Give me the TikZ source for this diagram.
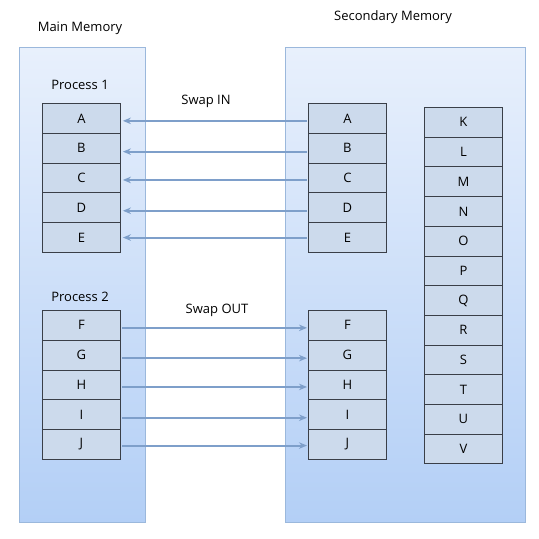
\documentclass[tikz,border=0pt]{standalone}
\usepackage{fontspec}
\setmainfont{Open Sans}
\usetikzlibrary{arrows.meta,shadings}
\definecolor{panelborder}{HTML}{9BB8DC}
\definecolor{paneltop}{HTML}{E8F0FC}
\definecolor{panelbot}{HTML}{B3CFF6}
\definecolor{cellfill}{HTML}{CCDAEC}
\definecolor{cellborder}{HTML}{3A3F48}
\definecolor{arrowcol}{HTML}{7E9FCA}
\tikzset{
  panel/.style={draw=panelborder, line width=1pt, top color=paneltop, bottom color=panelbot},
  cell/.style={draw=cellborder, line width=0.9pt, fill=cellfill, minimum width=78pt, minimum height=29.8pt, inner sep=0pt, anchor=north west, font=\fontsize{13}{15}\selectfont},
  kcell/.style={cell, minimum height=29.7pt},
  lbl/.style={font=\fontsize{13}{15}\selectfont, inner sep=0pt},
  swap/.style={draw=arrowcol, line width=2pt, -{Stealth[length=8pt,width=6.5pt]}}
}
\begin{document}
\begin{tikzpicture}[x=1pt,y=-1pt]
\useasboundingbox (0,0) rectangle (539,539);
% panels
\path[panel] (19,47) rectangle (145,522);
\path[panel] (285,47) rectangle (525,522);
% titles
\node[lbl] (mm) at (80,28) {Main Memory};
\node[lbl] (sm) at (393,17) {Secondary Memory};
\node[lbl] (p1) at (80,85) {Process 1};
\node[lbl] (p2) at (80,297) {Process 2};
\node[lbl] (sin) at (206,101) {Swap IN};
\node[lbl] (sout) at (217,310) {Swap OUT};
% process 1 in main memory
\foreach \n [count=\i from 0] in {A,B,C,D,E} {
  \node[cell] (m\n) at (42,103+29.8*\i) {\n};
  \node[cell] (s\n) at (308,103+29.8*\i) {\n};
}
% process 2
\foreach \n [count=\i from 0] in {F,G,H,I,J} {
  \node[cell] (m\n) at (42,310+29.8*\i) {\n};
  \node[cell] (s\n) at (308,310+29.8*\i) {\n};
}
% other secondary cells
\foreach \n [count=\i from 0] in {K,L,M,N,O,P,Q,R,S,T,U,V} {
  \node[kcell] (k\n) at (424,107+29.7*\i) {\n};
}
% swap in arrows
\foreach \n/\d in {A/2.5,B/3.5,C/2,D/3,E/0} {
  \draw[swap] ([xshift=-1pt,yshift=-\d pt]s\n.west) -- ([xshift=2pt,yshift=-\d pt]m\n.east);
}
% swap out arrows
\foreach \n/\d in {F/2.5,G/3,H/2,I/3,J/1} {
  \draw[swap] ([xshift=1pt,yshift=-\d pt]m\n.east) -- ([xshift=-1pt,yshift=-\d pt]s\n.west);
}
\end{tikzpicture}
\end{document}
